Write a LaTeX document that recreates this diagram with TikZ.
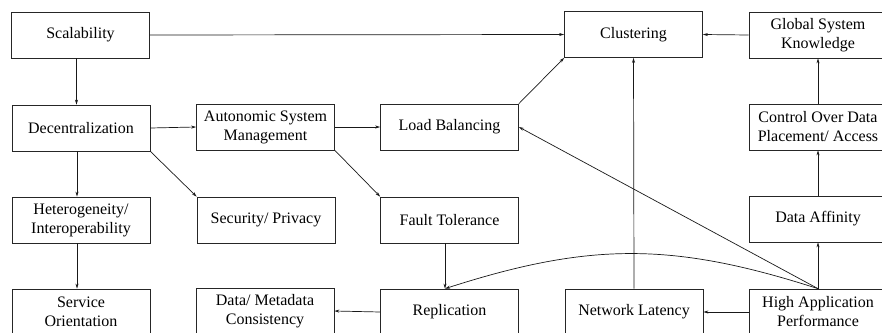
\documentclass[tikz,border=0pt]{standalone}
\usepackage{fontspec}
\setmainfont{Liberation Serif}
\usetikzlibrary{arrows.meta}
\begin{document}
\begin{tikzpicture}[x=1pt,y=-1pt,
  box/.style={draw=black!85,line width=0.7pt,minimum width=138pt,minimum height=46pt,
    inner sep=0pt,align=center,font=\fontsize{16}{19}\selectfont},
  arr/.style={draw=black!90,line width=0.7pt,-{Stealth[length=5pt,width=3pt]}}]
\clip (0,0) rectangle (882,332);
\useasboundingbox (0,0) rectangle (882,332);
% row 1
\node[box] (scal) at (80.5,35) {Scalability};
\node[box] (clus) at (633.5,34.5) {Clustering};
\node[box] (glob) at (818,35) {Global System\\Knowledge};
% row 2
\node[box] (dec)  at (81,128) {Decentralization};
\node[box] (asm)  at (265.5,127) {Autonomic System\\Management};
\node[box] (lb)   at (449.5,127) {Load Balancing};
\node[box] (ctrl) at (818,127) {Control Over Data\\Placement/ Access};
% row 3
\node[box] (het)  at (81,220) {Heterogeneity/\\Interoperability};
\node[box] (sec)  at (266,220) {Security/ Privacy};
\node[box] (ft)   at (449.5,220) {Fault Tolerance};
\node[box] (aff)  at (818,219) {Data Affinity};
% row 4
\node[box] (svc)  at (81,312) {Service\\Orientation};
\node[box] (meta) at (265,311) {Data/ Metadata\\Consistency};
\node[box] (rep)  at (449.5,312) {Replication};
\node[box] (lat)  at (634,312) {Network Latency};
\node[box] (hap)  at (818,312) {High Application\\Performance};
% connectors
\draw[arr] (scal.east) -- (clus.west);
\draw[arr] ([xshift=-4pt]scal.south) -- ([xshift=-4.5pt]dec.north);
\draw[arr] (dec.east) -- (asm.west);
\draw[arr] ([xshift=-4pt]dec.south) -- ([xshift=-4pt]het.north);
\draw[arr] ([xshift=-4pt]het.south) -- ([xshift=-4pt]svc.north);
\draw[arr] (dec.south east) -- (sec.north west);
\draw[arr] (asm.east) -- (lb.west);
\draw[arr] (asm.south east) -- (ft.north west);
\draw[arr] (lb.north east) -- (clus.south west);
\draw[arr] (glob.west) -- (clus.east);
\draw[arr] (ctrl.north) -- (glob.south);
\draw[arr] (aff.north) -- (ctrl.south);
\draw[arr] (hap.north) -- (aff.south);
\draw[arr] (hap.west) -- (lat.east);
\draw[arr] (hap.north) -- (lb.east);
\draw[arr] (lat.north) -- (clus.south);
\coordinate (repin) at ([xshift=-4.5pt]rep.north);
\draw[arr] ([xshift=-4.5pt]ft.south) -- (repin);
\draw[arr] (hap.north) .. controls (673,242) and (590,242) .. (repin);
\draw[arr] (rep.west) -- (meta.east);
\end{tikzpicture}
\end{document}
